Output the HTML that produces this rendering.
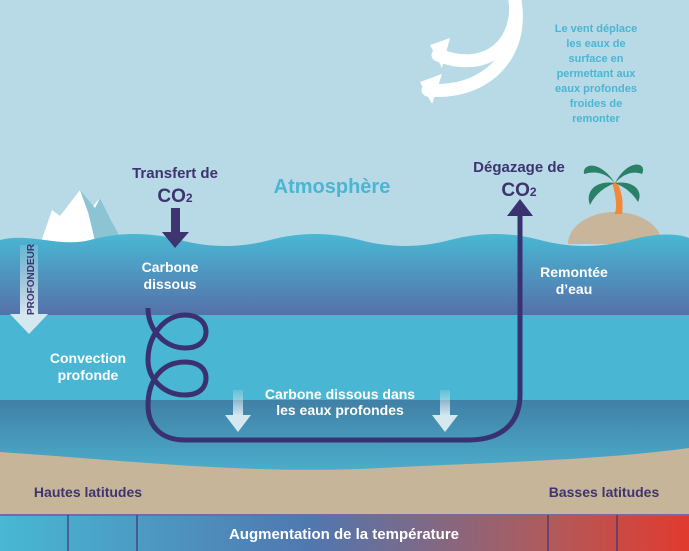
<!DOCTYPE html>
<html><head><meta charset="utf-8"><style>
html,body{margin:0;padding:0;width:689px;height:551px;overflow:hidden;}
svg text{font-family:"Liberation Sans",sans-serif;font-weight:bold;}
</style></head><body>
<svg width="689" height="551" viewBox="0 0 689 551" xmlns="http://www.w3.org/2000/svg">
<defs>
<linearGradient id="top" x1="0" y1="0" x2="0" y2="1"><stop offset="0" stop-color="#49b8d3"/><stop offset="1" stop-color="#5570aa"/></linearGradient>
<linearGradient id="deep" x1="0" y1="0" x2="0" y2="1"><stop offset="0" stop-color="#4080a6"/><stop offset="1" stop-color="#4caccb"/></linearGradient>
<linearGradient id="bar" x1="0" y1="0" x2="1" y2="0"><stop offset="0" stop-color="#48b8d4"/><stop offset="0.45" stop-color="#5077b0"/><stop offset="0.8" stop-color="#b15a5a"/><stop offset="1" stop-color="#e23a2e"/></linearGradient>
<linearGradient id="pf" x1="0" y1="0" x2="0" y2="1"><stop offset="0" stop-color="#d6e8ef" stop-opacity="0.2"/><stop offset="1" stop-color="#d6e8ef"/></linearGradient>
</defs>
<rect width="689" height="551" fill="#b8d9e6"/>
<!-- iceberg -->
<polygon points="40,245 52,210 60,216 80,190 88,212 100,198 112,222 125,245" fill="#fff"/>
<polygon points="80,190 88,212 96,245 125,245 112,222 100,198 95,208" fill="#8cc4d4"/>
<!-- island -->
<path d="M568,244 A47,32 0 0 1 662,244 Z" fill="#c8b59a"/>
<path d="M612,183 C617,198 617,212 614,214 L622,214 C624,200 621,190 617,182 Z" fill="#f08a3a"/>
<g fill="#2b8068">
<path d="M615,183 C600,160 582,163 584,174 C597,170 607,174 615,183Z"/>
<path d="M615,183 C628,158 648,162 642,174 C632,170 622,175 615,183Z"/>
<path d="M615,183 C595,180 585,192 590,205 C596,193 605,187 615,183Z"/>
<path d="M615,183 C632,180 644,190 638,202 C632,192 624,187 615,183Z"/>
</g>
<!-- top ocean -->
<path d="M0,240 C30,232 60,248 90,240 S150,232 180,240 S240,248 270,240 S330,232 360,240 S420,248 450,240 S510,232 540,240 S600,248 630,240 S680,234 689,238 L689,316 L0,316 Z" fill="url(#top)"/>
<rect y="315" width="689" height="86" fill="#49b6d3"/>
<rect y="400" width="689" height="70" fill="url(#deep)"/>
<!-- sand -->
<path d="M0,452 C120,460 250,475 380,468 C500,462 600,460 689,448 L689,516 L0,516 Z" fill="#c7b59a"/>
<!-- bar -->
<rect y="515" width="689" height="36" fill="url(#bar)"/>
<rect y="514" width="689" height="2" fill="#7a6a9a"/>
<g stroke="#3d3470" stroke-width="1.2"><line x1="68" y1="515" x2="68" y2="551"/><line x1="137" y1="515" x2="137" y2="551"/><line x1="548" y1="515" x2="548" y2="551"/><line x1="617" y1="515" x2="617" y2="551"/></g>
<!-- wind arrow -->
<g fill="none" stroke="#fff" stroke-width="13" stroke-linecap="round">
<path d="M515,0 C520,40 490,75 438,55"/>
<path d="M515,0 C525,60 480,95 428,90"/>
</g>
<polygon points="430,45 450,38 442,68" fill="#fff"/>
<polygon points="420,82 442,74 432,104" fill="#fff"/>
<!-- profondeur -->
<rect x="20" y="245" width="18" height="70" fill="url(#pf)"/>
<polygon points="10,314 48,314 29,334" fill="#d6e8ef"/>
<text transform="translate(34,315) rotate(-90)" font-size="10" fill="#3d3470">PROFONDEUR</text>
<!-- down arrows -->
<rect x="233" y="390" width="10" height="26" fill="url(#pf)"/>
<polygon points="225,415 251,415 238,432" fill="#d6e8ef"/>
<rect x="440" y="390" width="10" height="26" fill="url(#pf)"/>
<polygon points="432,415 458,415 445,432" fill="#d6e8ef"/>
<!-- co2 transfer arrow -->
<rect x="171" y="208" width="9" height="25" fill="#3d3470"/>
<polygon points="162,232 189,232 175,248" fill="#3d3470"/>
<!-- path -->
<path d="M148,308 C148,330 165,348 185,348 C200,348 206,340 206,332 C206,320 195,315 185,315 C165,315 148,335 148,360 C148,380 165,395 185,395 C200,395 206,387 206,378 C206,366 195,362 185,362 C162,362 148,380 148,405 C148,430 165,440 185,440 L468,440 C505,440 520,420 520,395 L520,212" fill="none" stroke="#3a3270" stroke-width="5"/>
<polygon points="507,216 520,199 533,216" fill="#3a3270"/>
<!-- text -->
<g text-anchor="middle">
<text x="175" y="178" font-size="15" fill="#3d3470">Transfert de</text>
<text x="175" y="202" font-size="19" fill="#3d3470">CO<tspan font-size="12">2</tspan></text>
<text x="519" y="172" font-size="15" fill="#3d3470">Dégazage de</text>
<text x="519" y="196" font-size="19" fill="#3d3470">CO<tspan font-size="12">2</tspan></text>
<text x="332" y="193" font-size="20" fill="#4ab6d4">Atmosphère</text>
<text x="170" y="272" font-size="14" fill="#fff" font-weight="normal">Carbone</text>
<text x="170" y="289" font-size="14" fill="#fff" font-weight="normal">dissous</text>
<text x="574" y="277" font-size="14" fill="#fff" font-weight="normal">Remontée</text>
<text x="574" y="294" font-size="14" fill="#fff" font-weight="normal">d’eau</text>
<text x="88" y="363" font-size="14" fill="#fff">Convection</text>
<text x="88" y="380" font-size="14" fill="#fff">profonde</text>
<text x="340" y="399" font-size="14" fill="#fff">Carbone dissous dans</text>
<text x="340" y="415" font-size="14" fill="#fff" font-weight="normal">les eaux profondes</text>
<g font-size="11" fill="#4ab6d4">
<text x="596" y="32">Le vent déplace</text>
<text x="596" y="47">les eaux de</text>
<text x="596" y="62">surface en</text>
<text x="596" y="77">permettant aux</text>
<text x="596" y="92">eaux profondes</text>
<text x="596" y="107">froides de</text>
<text x="596" y="122">remonter</text>
</g>
<text x="88" y="497" font-size="14" fill="#3d3470">Hautes latitudes</text>
<text x="604" y="497" font-size="14" fill="#3d3470">Basses latitudes</text>
<text x="344" y="539" font-size="15" fill="#fff">Augmentation de la température</text>
</g>
</svg>
</body></html>
